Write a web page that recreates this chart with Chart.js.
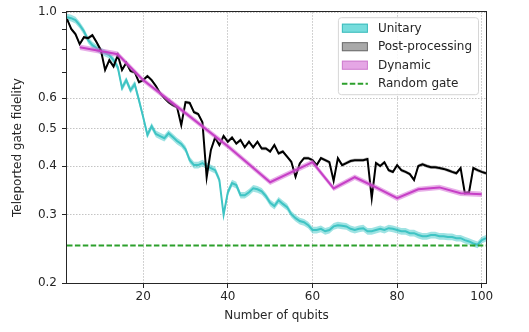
<!DOCTYPE html>
<html>
<head>
<meta charset="utf-8">
<script src="https://cdn.jsdelivr.net/npm/chart.js@4.4.0/dist/chart.umd.min.js"></script>
<style>
  html, body { margin: 0; padding: 0; background: #fff; }
  #wrap { width: 529px; height: 332px; }
</style>
</head>
<body>
<div id="wrap"><canvas id="chart" width="529" height="332"></canvas></div>
<script>
// Number of qubits (x) for the unitary and post-processing curves
const qubits = [
    2, 3, 4, 5, 6, 7, 8, 9, 10, 11,
    12, 13, 14, 15, 16, 17, 18, 19, 20, 21,
    22, 23, 24, 25, 26, 27, 28, 29, 30, 31,
    32, 33, 34, 35, 36, 37, 38, 39, 40, 41,
    42, 43, 44, 45, 46, 47, 48, 49, 50, 51,
    52, 53, 54, 55, 56, 57, 58, 59, 60, 61,
    62, 63, 64, 65, 66, 67, 68, 69, 70, 71,
    72, 73, 74, 75, 76, 77, 78, 79, 80, 81,
    82, 83, 84, 85, 86, 87, 88, 89, 90, 91,
    92, 93, 94, 95, 96, 97, 98, 99, 100, 101
];

const unitary = [
    0.971, 0.965, 0.954, 0.926, 0.893, 0.847, 0.822, 0.808, 0.793, 0.784,
    0.775, 0.752, 0.721, 0.637, 0.668, 0.629, 0.652, 0.593, 0.536, 0.482,
    0.508, 0.485, 0.479, 0.473, 0.487, 0.476, 0.465, 0.457, 0.443, 0.415,
    0.403, 0.403, 0.408, 0.401, 0.396, 0.391, 0.369, 0.300, 0.343, 0.362,
    0.358, 0.337, 0.337, 0.343, 0.351, 0.349, 0.345, 0.335, 0.322, 0.316,
    0.327, 0.320, 0.314, 0.301, 0.294, 0.289, 0.287, 0.282, 0.274, 0.274,
    0.276, 0.272, 0.274, 0.280, 0.282, 0.281, 0.280, 0.276, 0.274, 0.276,
    0.277, 0.272, 0.272, 0.274, 0.276, 0.274, 0.277, 0.276, 0.274, 0.272,
    0.272, 0.269, 0.269, 0.266, 0.264, 0.264, 0.266, 0.266, 0.264, 0.264,
    0.263, 0.263, 0.261, 0.261, 0.258, 0.256, 0.253, 0.251, 0.258, 0.261
];

const postProcessing = [
    0.960, 0.905, 0.878, 0.827, 0.862, 0.857, 0.872, 0.836, 0.798, 0.709,
    0.752, 0.724, 0.775, 0.709, 0.740, 0.705, 0.700, 0.660, 0.668, 0.684,
    0.668, 0.645, 0.618, 0.600, 0.586, 0.576, 0.569, 0.511, 0.586, 0.583,
    0.552, 0.546, 0.520, 0.375, 0.441, 0.475, 0.454, 0.479, 0.463, 0.475,
    0.458, 0.468, 0.448, 0.463, 0.448, 0.463, 0.445, 0.445, 0.437, 0.454,
    0.432, 0.437, 0.424, 0.411, 0.376, 0.407, 0.420, 0.420, 0.415, 0.403,
    0.420, 0.415, 0.410, 0.367, 0.420, 0.403, 0.408, 0.413, 0.415, 0.415,
    0.415, 0.418, 0.331, 0.408, 0.401, 0.410, 0.391, 0.387, 0.403, 0.391,
    0.387, 0.382, 0.369, 0.401, 0.405, 0.401, 0.398, 0.398, 0.396, 0.394,
    0.391, 0.387, 0.384, 0.396, 0.341, 0.343, 0.396, 0.391, 0.387, 0.384
];

// Dynamic circuits were only run at a few sizes
const dynamicQubits = [5, 14, 20, 30, 40, 50, 60, 65, 70, 75, 80, 85, 90, 95, 100];
const dynamic = [0.812, 0.779, 0.668, 0.549, 0.451, 0.364, 0.410, 0.351, 0.375, 0.353, 0.331, 0.349, 0.353, 0.341, 0.339];

const randomGate = 0.25;

// relative half-width of the shaded bands
const unitarySpread = 0.02;
const postSpread = 0.01;
const dynamicSpread = 0.016;

const xRange = [2, 101];
const xTicks = [20, 40, 60, 80, 100];
const yTicks = [0.2, 0.3, 0.4, 0.5, 0.6, 0.7, 0.8, 0.9, 1.0];
const yLabelled = [0.2, 0.3, 0.4, 0.5, 0.6, 1.0];

const FONT = '"DejaVu Sans", sans-serif';
const TEXT = '#262626';
const GRID = '#c4c4c4';

function points(xs, ys, f) {
    return xs.map((x, i) => ({ x: x, y: ys[i] * f }));
}

function band(label, xs, ys, spread, color, order) {
    return [
        { label: label + ' hi', data: points(xs, ys, 1 + spread), borderWidth: 0, pointRadius: 0,
          backgroundColor: color, fill: '+1', order: order },
        { label: label + ' lo', data: points(xs, ys, 1 - spread), borderWidth: 0, pointRadius: 0,
          fill: false, order: order }
    ];
}

function line(label, xs, ys, color, order) {
    return { label: label, data: points(xs, ys, 1), borderColor: color, borderWidth: 2,
             pointRadius: 0, fill: false, order: order };
}

const legendRows = [
    { text: 'Unitary', fill: 'rgba(72,208,208,0.75)', edge: '#3fbcbc' },
    { text: 'Post-processing', fill: 'rgba(140,140,140,0.75)', edge: '#6e6e6e' },
    { text: 'Dynamic', fill: 'rgba(224,150,224,0.85)', edge: '#cf7fcf' },
    { text: 'Random gate', dash: '#2ca02c' }
];

// full box around the axes + matplotlib style legend in the top right corner
const framePlugin = {
    id: 'frame',
    afterDraw(chart) {
        const { ctx, chartArea: a } = chart;
        ctx.save();
        ctx.strokeStyle = TEXT;
        ctx.lineWidth = 1;
        ctx.strokeRect(Math.round(a.left) - 0.5, Math.round(a.top) - 0.5,
                       Math.round(a.right - a.left) + 1, Math.round(a.bottom - a.top) + 1);

        ctx.font = '12px ' + FONT;
        const textW = Math.max(...legendRows.map(r => ctx.measureText(r.text).width));
        const w = 4 + 26 + 10 + textW + 6;
        const h = 77;
        const x0 = a.right - 8 - w;
        const y0 = a.top + 5;
        ctx.beginPath();
        ctx.roundRect(x0 + 0.5, y0 + 0.5, w, h, 3);
        ctx.fillStyle = 'rgba(255,255,255,0.85)';
        ctx.fill();
        ctx.strokeStyle = '#d6d6d6';
        ctx.stroke();

        legendRows.forEach((r, i) => {
            const cy = y0 + 11 + i * 18.5;
            const px = x0 + 4;
            if (r.dash) {
                ctx.beginPath();
                ctx.setLineDash([5.5, 2.4]);
                ctx.strokeStyle = r.dash;
                ctx.lineWidth = 2;
                ctx.moveTo(px, cy);
                ctx.lineTo(px + 26, cy);
                ctx.stroke();
                ctx.setLineDash([]);
            } else {
                ctx.fillStyle = r.fill;
                ctx.fillRect(px, cy - 4.5, 26, 9);
                ctx.strokeStyle = r.edge;
                ctx.lineWidth = 1;
                ctx.strokeRect(px + 0.5, cy - 4, 25, 8);
            }
            ctx.fillStyle = TEXT;
            ctx.textBaseline = 'middle';
            ctx.fillText(r.text, px + 36, cy + 0.5);
        });
        ctx.restore();
    }
};

const datasets = [
    { label: 'Random gate', data: [{ x: xRange[0], y: randomGate }, { x: xRange[1], y: randomGate }],
      borderColor: '#2ca02c', borderWidth: 2, borderDash: [5.5, 2.4], pointRadius: 0, fill: false, order: 0 },
    line('Dynamic', dynamicQubits, dynamic, '#c63fc6', 1),
    ...band('Dynamic', dynamicQubits, dynamic, dynamicSpread, 'rgba(214,110,214,0.55)', 2),
    line('Post-processing', qubits, postProcessing, '#000000', 3),
    ...band('Post-processing', qubits, postProcessing, postSpread, 'rgba(100,100,100,0.45)', 4),
    line('Unitary', qubits, unitary, '#3fc4c4', 5),
    ...band('Unitary', qubits, unitary, unitarySpread, 'rgba(64,200,200,0.5)', 6)
];

new Chart(document.getElementById('chart'), {
    type: 'line',
    data: { datasets: datasets },
    options: {
        responsive: false,
        animation: false,
        layout: { padding: { top: 11, right: 43, left: 0, bottom: 0 } },
        plugins: { legend: { display: false }, tooltip: { enabled: false } },
        scales: {
            x: {
                type: 'linear',
                min: xRange[0],
                max: xRange[1],
                afterFit: s => { s.height = 49; },
                afterBuildTicks: s => { s.ticks = xTicks.map(v => ({ value: v })); },
                ticks: { color: TEXT, font: { family: FONT, size: 12 }, padding: 2, maxRotation: 0 },
                grid: { color: GRID, tickColor: TEXT, tickLength: 5, lineWidth: 1 },
                border: { display: false, dash: [1.5, 1.5] },
                title: { display: true, text: 'Number of qubits', color: TEXT,
                         font: { family: FONT, size: 12 }, padding: { top: 0, bottom: 9 } }
            },
            y: {
                type: 'logarithmic',
                min: 0.2,
                max: 1.0,
                afterFit: s => { s.width = 67; },
                afterBuildTicks: s => { s.ticks = yTicks.map(v => ({ value: v })); },
                ticks: {
                    color: TEXT, font: { family: FONT, size: 12 }, padding: 5, autoSkip: false,
                    callback: v => yLabelled.some(t => Math.abs(t - v) < 1e-9) ? v.toFixed(1) : ''
                },
                grid: {
                    color: c => yLabelled.some(t => Math.abs(t - c.tick.value) < 1e-9) ? GRID : 'rgba(0,0,0,0)',
                    tickColor: TEXT, tickLength: 5, lineWidth: 1
                },
                border: { display: false, dash: [1.5, 1.5] },
                title: { display: true, text: 'Teleported gate fidelity', color: TEXT,
                         font: { family: FONT, size: 12 }, padding: { top: 11, bottom: 0 } }
            }
        }
    },
    plugins: [framePlugin]
});
</script>
</body>
</html>
